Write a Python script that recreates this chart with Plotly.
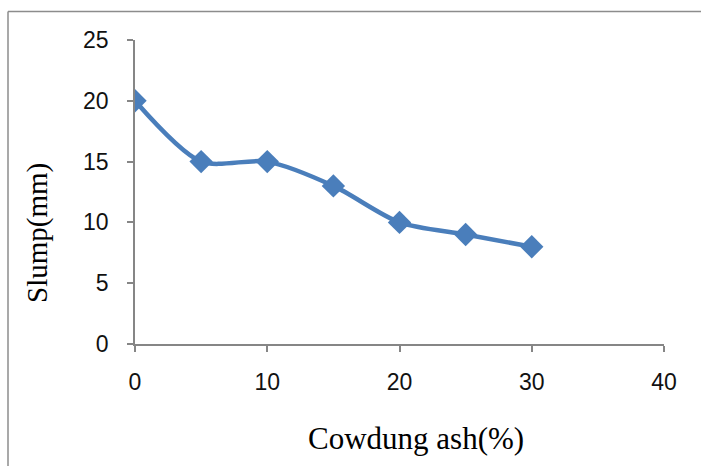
import plotly.graph_objects as go

ash_pct = [0, 5, 10, 15, 20, 25, 30]
slump_mm = [20, 15, 15, 13, 10, 9, 8]
x_ticks = [0, 10, 20, 30, 40]
y_ticks = [0, 5, 10, 15, 20, 25]

W, H = 701, 466
L, R, T, B = 135, 37, 40, 122
pw, ph = W - L - R, H - T - B

fig = go.Figure(go.Scatter(
    x=ash_pct, y=slump_mm, mode="lines+markers",
    line=dict(color="#4a7ebb", width=4.5, shape="spline", smoothing=0.8),
    marker=dict(symbol="diamond", size=18, color="#4a7ebb"),
    showlegend=False,
))

axis_common = dict(showgrid=False, zeroline=False, showline=True, linecolor="#868686",
                   linewidth=1.5, ticks="outside", ticklen=6, tickcolor="#868686", tickwidth=1.5,
                   tickfont=dict(family="Liberation Sans, Arial", size=23, color="#111111"))

fig.update_xaxes(range=[0, 40], tickvals=x_ticks, ticklabelstandoff=11, **axis_common)
fig.update_yaxes(range=[0, 25], tickvals=y_ticks, ticklabelstandoff=14, **axis_common)

serif = "Liberation Serif, Times New Roman"
fig.add_annotation(text="Cowdung ash(%)", xref="paper", yref="paper",
                   x=(416 - L) / pw, y=(T + ph - 438) / ph, showarrow=False,
                   xanchor="center", yanchor="middle",
                   font=dict(family=serif, size=31, color="black"))
fig.add_annotation(text="Slump(mm)", xref="paper", yref="paper",
                   x=(37 - L) / pw, y=(T + ph - 233) / ph, showarrow=False, textangle=-90,
                   xanchor="center", yanchor="middle",
                   font=dict(family=serif, size=29, color="black"))

u = (8 - L) / pw
v = (T + ph - 11.5) / ph
fig.add_shape(type="line", xref="paper", yref="paper", x0=u, x1=u, y0=-2, y1=v,
              line=dict(color="#8c8c8c", width=1.5))
fig.add_shape(type="line", xref="paper", yref="paper", x0=u, x1=(W + 5 - L) / pw, y0=v, y1=v,
              line=dict(color="#8c8c8c", width=1.5))

fig.update_layout(width=W, height=H, margin=dict(l=L, r=R, t=T, b=B),
                  paper_bgcolor="white", plot_bgcolor="white")
fig.write_html("out.html")
